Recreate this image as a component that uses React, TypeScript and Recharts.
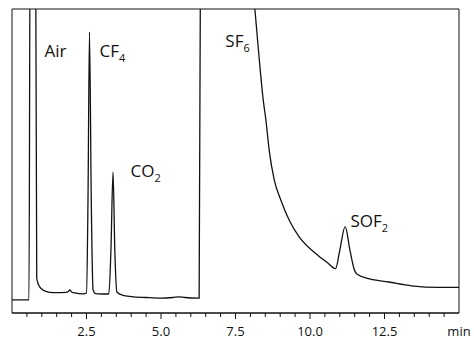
import React from "react";
import { LineChart, Line, XAxis, YAxis, ReferenceArea, ReferenceDot } from "recharts";

// retention time (min) and detector signal (% of full scale, >100 is off-scale)
const times = [
  0, 0.3, 0.57, 0.61, 0.79, 0.83, 0.87, 0.93, 1.05, 1.27, 1.5, 1.8, 1.88, 1.94, 2.0, 2.1,
  2.4, 2.5, 2.55, 2.6, 2.66, 2.72, 2.8, 3.0, 3.25, 3.32, 3.39, 3.45, 3.52, 3.7, 4.0, 4.5,
  5.0, 5.4, 5.6, 5.8, 6.2, 6.28, 6.33, 7.0, 7.6, 8.0, 8.15, 8.22, 8.32, 8.43, 8.52, 8.63,
  8.8, 9.02, 9.3, 9.63, 10.19, 10.58, 10.86, 11.0, 11.18, 11.34, 11.47, 11.57, 11.97,
  12.64, 13.41, 14.31, 15,
];
const signal = [
  4.3, 4.3, 4.3, 130, 130, 11.5, 9.8, 8.6, 7.5, 6.8, 6.7, 6.8, 7.0, 7.6, 6.9, 6.6,
  6.3, 6.6, 37, 92.4, 37, 7.6, 6.4, 6.25, 6.25, 20.7, 46.4, 20.7, 6.9, 5.9, 5.4, 5.1,
  4.9, 5.1, 5.3, 5.1, 4.9, 4.9, 130, 200, 150, 112, 100, 92.1, 81.0, 70.1, 63.5, 53.6,
  43.8, 37.2, 30.6, 25.1, 19.6, 16.6, 14.6, 20.7, 28.4, 20.7, 14.8, 12.8, 11.3,
  10.2, 8.9, 8.4, 8.4,
];

const xTicks = [
  0.5, 1, 1.5, 2, 2.5, 3, 3.5, 4, 4.5, 5, 5.5, 6, 6.5, 7, 7.5, 8, 8.5, 9, 9.5, 10,
  10.5, 11, 11.5, 12, 12.5, 13, 13.5, 14, 14.5, 15,
];

// peak labels: [name, subscript, time, signal] (left end of the text baseline)
const peakLabels: [string, string, number, number][] = [
  ["Air", "", 1.09, 84.2],
  ["CF", "4", 2.94, 84.2],
  ["CO", "2", 3.98, 44.7],
  ["SF", "6", 7.16, 87.5],
  ["SOF", "2", 11.36, 28.4],
];

const data = times.map((t, i) => ({ t, v: signal[i] }));

const FONT = "'Open Sans', sans-serif";

const Tick = (props: any) => {
  const { x, y, payload } = props;
  const val = payload.value;
  if (val === 15) {
    return (
      <text x={x} y={y + 23} textAnchor="middle" fontSize={13} fontFamily={FONT} fill="#111">
        min
      </text>
    );
  }
  const major = Math.abs(val / 2.5 - Math.round(val / 2.5)) < 1e-6;
  return (
    <g>
      <line x1={x} y1={y} x2={x} y2={y + (major ? 6 : 4)} stroke="#111" strokeWidth={1} />
      {major && (
        <text x={x} y={y + 23} textAnchor="middle" fontSize={13} fontFamily={FONT} fill="#111">
          {val.toFixed(1)}
        </text>
      )}
    </g>
  );
};

const PeakLabel = (name: string, sub: string) => (p: any) => (
  <text x={p.cx} y={p.cy} fontSize={17} fontFamily={FONT} fill="#111">
    {name}
    {sub && (
      <tspan fontSize={11} dy={5}>
        {sub}
      </tspan>
    )}
  </text>
);

export default function App() {
  return (
    <div style={{ position: "absolute", left: 0, top: 0, background: "#fff" }}>
      <LineChart width={474} height={340} data={data} margin={{ top: 9, right: 15, left: 12, bottom: 0 }}>
        <XAxis
          dataKey="t"
          type="number"
          domain={[0, 15]}
          ticks={xTicks}
          interval={0}
          tick={<Tick />}
          tickLine={false}
          tickSize={0}
          tickMargin={0}
          height={27}
          axisLine={{ stroke: "#111" }}
        />
        <YAxis hide type="number" domain={[0, 100]} allowDataOverflow />
        <ReferenceArea x1={0} x2={15} y1={0} y2={100} fill="none" stroke="#111" strokeWidth={1} />
        <Line
          type="monotone"
          dataKey="v"
          stroke="#111"
          strokeWidth={1.3}
          dot={false}
          isAnimationActive={false}
        />
        {peakLabels.map(([name, sub, t, v]) => (
          <ReferenceDot key={name + sub} x={t} y={v} r={0} shape={PeakLabel(name, sub)} />
        ))}
      </LineChart>
    </div>
  );
}
